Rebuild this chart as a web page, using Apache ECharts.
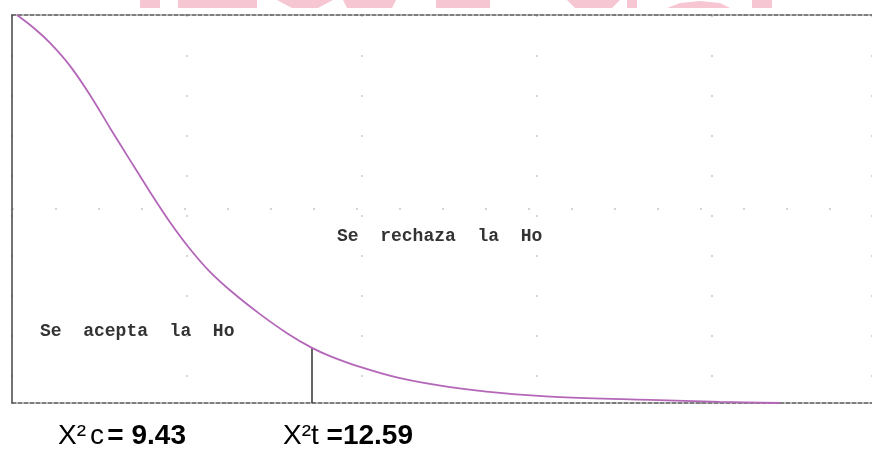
<!DOCTYPE html>
<html>
<head>
<meta charset="utf-8">
<script src="https://cdn.jsdelivr.net/npm/echarts@6/dist/echarts.min.js"></script>
<style>
  html, body { margin: 0; padding: 0; background: #fff; }
  #chart { width: 872px; height: 450px; }
</style>
</head>
<body>
<div id="chart"></div>
<script>
  // curve (x in arbitrary units, y as % of plot height)
  var curveX = [0.5, 2.3, 3.8, 5.8, 7.8, 9.8, 11.8, 13.8, 15.8, 17.8, 19.8, 22.1, 24.8, 27.5, 30, 31.8, 34.8, 38.8, 43.8, 48.8, 54.8, 63.8, 70.8, 76.8]
  var curveY = [100, 96.4, 92.8, 86.9, 79.4, 70.9, 62.6, 54.4, 46.6, 39.7, 33.8, 28.4, 22.9, 18.0, 14.2, 12.1, 9.3, 6.4, 4.1, 2.6, 1.5, 0.8, 0.3, 0]
  var critX = 30
  var critY = 14.2
  var acceptText = 'Se  acepta  la  Ho'
  var rejectText = 'Se  rechaza  la  Ho'
  var calcLabel = ['X²', 'c', '= 9.43']
  var tabLabel = ['X²', 't', ' =12.59']

  var curveData = []
  for (var i = 0; i < curveX.length; i++) {
    curveData.push([curveX[i], curveY[i]])
  }

  var chart = echarts.init(document.getElementById('chart'))
  var pink = '#f6c6d3'
  var richLabel = {
    a: { fontFamily: 'Liberation Sans', fontSize: 28, fill: '#000' },
    c: { fontFamily: 'Liberation Sans', fontSize: 28, fill: '#000', padding: [0, 0, 0, 4] },
    t: { fontFamily: 'Liberation Sans', fontSize: 28, fill: '#000' },
    b: { fontFamily: 'Liberation Sans', fontSize: 28, fontWeight: 'bold', fill: '#000' }
  }
  var option = {
    animation: false,
    grid: { left: 12, right: 0, top: 15, bottom: 47 },
    xAxis: [
      {
        type: 'value', min: 0, max: 86, interval: 17.5, position: 'bottom',
        axisLine: { show: true, lineStyle: { color: '#555', width: 1.5, type: [4, 2] } },
        axisTick: { show: false }, axisLabel: { show: false },
        splitLine: { show: true, lineStyle: { color: '#d4d4d4', width: 2, type: [2, 38] } }
      },
      {
        type: 'value', min: 0, max: 86, position: 'top',
        axisLine: { show: true, lineStyle: { color: '#555', width: 1.5, type: [4, 2] } },
        axisTick: { show: false }, axisLabel: { show: false }, splitLine: { show: false }
      }
    ],
    yAxis: {
      type: 'value', min: 0, max: 100, interval: 50,
      axisLine: { show: true, lineStyle: { color: '#444', width: 1.5 } },
      axisTick: { show: false }, axisLabel: { show: false },
      splitLine: { show: true, lineStyle: { color: '#d4d4d4', width: 2, type: [2, 41] } }
    },
    series: [
      {
        type: 'line',
        data: curveData,
        smooth: 0.35,
        showSymbol: false,
        lineStyle: { color: '#b466b8', width: 1.8 },
        z: 3
      },
      {
        type: 'line',
        data: [[critX, 0], [critX, critY]],
        showSymbol: false,
        lineStyle: { color: '#333', width: 1.5 },
        z: 2
      }
    ],
    graphic: [
      // pink watermark fragments at the top edge
      { type: 'rect', shape: { x: 140, y: 0, width: 20, height: 8 }, style: { fill: pink } },
      { type: 'rect', shape: { x: 178, y: 0, width: 79, height: 8 }, style: { fill: pink } },
      { type: 'polygon', shape: { points: [[277, 0], [333, 0], [318, 8], [292, 8]] }, style: { fill: pink } },
      { type: 'polygon', shape: { points: [[343, 0], [396, 0], [392, 8], [347, 8]] }, style: { fill: pink } },
      { type: 'rect', shape: { x: 436, y: 0, width: 54, height: 8 }, style: { fill: pink } },
      { type: 'polygon', shape: { points: [[567, 0], [620, 0], [612, 8], [575, 8]] }, style: { fill: pink } },
      { type: 'rect', shape: { x: 627, y: 0, width: 10, height: 8 }, style: { fill: pink } },
      { type: 'polygon', shape: { points: [[667, 8], [680, 3], [700, 1], [720, 3], [730, 8]] }, style: { fill: pink } },
      { type: 'rect', shape: { x: 752, y: 0, width: 20, height: 8 }, style: { fill: pink } },
      {
        type: 'text', left: 40, top: 322,
        style: { text: acceptText, font: 'bold 18px "Liberation Mono", monospace', fill: '#333' }
      },
      {
        type: 'text', left: 337, top: 227,
        style: { text: rejectText, font: 'bold 18px "Liberation Mono", monospace', fill: '#333' }
      },
      {
        type: 'text', left: 58, top: 422,
        style: { text: '{a|' + calcLabel[0] + '}{c|' + calcLabel[1] + '} {b|' + calcLabel[2] + '}', rich: richLabel }
      },
      {
        type: 'text', left: 283, top: 422,
        style: { text: '{a|' + tabLabel[0] + '}{t|' + tabLabel[1] + '}{b|' + tabLabel[2] + '}', rich: richLabel }
      }
    ]
  }
  chart.setOption(option)
</script>
</body>
</html>
